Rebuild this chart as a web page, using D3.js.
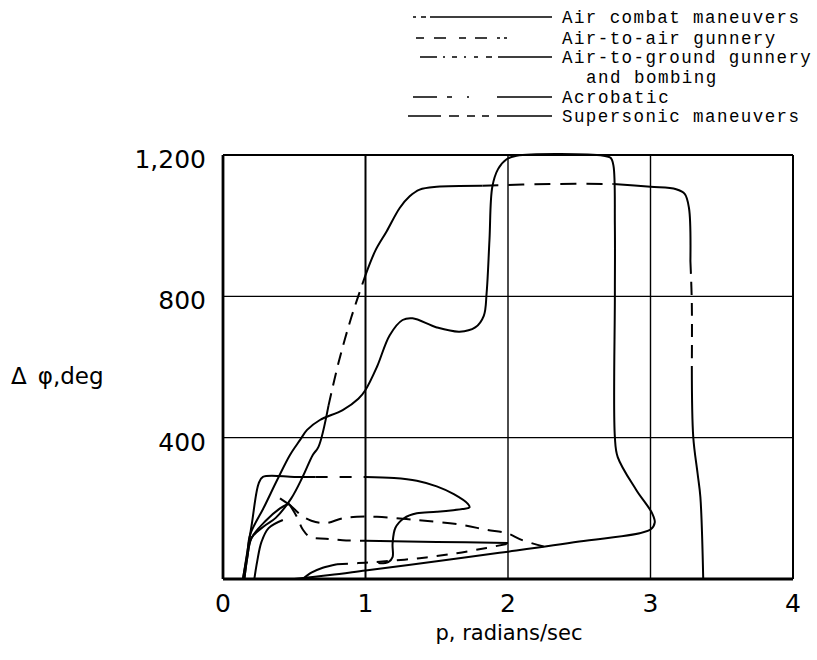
<!DOCTYPE html>
<html>
<head>
<meta charset="utf-8">
<script src="https://cdn.jsdelivr.net/npm/d3@7"></script>
<style>
  html, body { margin: 0; padding: 0; background: #fff; }
  svg { display: block; }
</style>
</head>
<body>
<svg id="chart" width="817" height="660"></svg>
<script>
// ---------------- data ----------------
const xTicks = [0, 1, 2, 3, 4];
const xTickLabels = ["0", "1", "2", "3", "4"];
const yTicks = [400, 800, 1200];
const yTickLabels = ["400", "800", "1,200"];
const xTitle = "p, radians/sec";
const yTitleSymbol = "\u0394";
const yTitleRest = "\u03C6,deg";

const legendNames = [
  "Air combat maneuvers",
  "Air-to-air gunnery",
  "Air-to-ground gunnery",
  "Acrobatic",
  "Supersonic maneuvers"
];
const legendSecondLine = ["", "", "and bombing", "", ""];

// [p (rad/sec), delta phi (deg)]
const airCombat = [[0.5,0],[0.75,11],[1.0,24],[1.5,50],[1.94,74],[2.5,106],[3.0,140],[3.03,160],[3.01,187],
  [2.9,252],[2.77,345],[2.75,402],[2.75,804],[2.75,1000],[2.74,1170],[2.72,1192],[2.67,1198],[2.06,1198],
  [1.99,1188],[1.93,1160],[1.89,1110],[1.87,960],[1.85,810],[1.83,745],[1.77,712],[1.66,700],[1.5,712],
  [1.33,738],[1.26,733],[1.17,690],[1.08,600],[1.0,535],[0.95,510],[0.84,478],[0.68,450],[0.59,422],
  [0.54,393],[0.47,351],[0.38,280],[0.29,205],[0.19,125],[0.17,70],[0.14,0]];

const supersonic = [[0.15,0],[0.17,60],[0.2,116],[0.29,150],[0.37,173],[0.48,229],[0.56,290],[0.63,351],
  [0.67,374],[0.74,490],[0.81,611],[0.9,740],[1.0,860],[1.07,930],[1.15,985],[1.24,1050],[1.31,1083],
  [1.38,1102],[1.5,1110],[1.82,1113],[2.3,1118],[2.74,1118],[3.0,1110],[3.18,1103],[3.24,1090],[3.27,1050],
  [3.28,900],[3.29,780],[3.29,600],[3.3,402],[3.33,300],[3.35,232],[3.37,0]];

const airToGround = [[0.14,0],[0.2,150],[0.25,270],[0.28,289],[0.5,289],[0.65,289],[1.0,289],[1.2,286],
  [1.36,278],[1.5,262],[1.62,240],[1.72,212],[1.73,203],[1.68,198],[1.5,190],[1.36,186],[1.27,172],
  [1.21,145],[1.19,100],[1.19,62],[1.16,48],[1.09,45]];

const acrobaticShort = [[0.22,0],[0.24,50],[0.27,105],[0.32,144],[0.42,167]];
const acrobaticLow = [[0.56,0],[0.62,18],[0.7,32],[0.8,42],[0.95,45],[1.1,49],[1.38,59],[1.64,73],[1.85,88],[2.0,100]];

const gunneryUpper = [[0.15,0],[0.17,60],[0.2,116],[0.3,165],[0.4,200],[0.46,213],[0.5,198],[0.55,180],
  [0.62,165],[0.72,158],[0.84,172],[0.94,176],[1.08,176],[1.36,167],[1.68,153],[1.85,139],[1.99,130],
  [2.1,110],[2.25,92]];
const gunneryLower = [[0.4,228],[0.47,209],[0.52,175],[0.56,140],[0.61,119],[0.72,114],[0.84,110],
  [1.0,108],[1.5,105],[2.0,102]];

// ---------------- styling / drawing ----------------
const DASH = "13,8";
const pieces = [
  { data: airCombat, from: 0, to: airCombat.length - 1, dash: null },

  { data: supersonic, from: 0, to: 9, dash: null },
  { data: supersonic, from: 9, to: 12, dash: DASH },
  { data: supersonic, from: 12, to: 19, dash: null },
  { data: supersonic, from: 19, to: 21, dash: "16,10" },
  { data: supersonic, from: 21, to: 26, dash: null },
  { data: supersonic, from: 26, to: 28, dash: DASH },
  { data: supersonic, from: 28, to: supersonic.length - 1, dash: null },

  { data: airToGround, from: 0, to: 5, dash: null },
  { data: airToGround, from: 5, to: 6, dash: "12,12" },
  { data: airToGround, from: 6, to: airToGround.length - 1, dash: null },

  { data: acrobaticShort, from: 0, to: acrobaticShort.length - 1, dash: null },
  { data: acrobaticLow, from: 0, to: 3, dash: null },
  { data: acrobaticLow, from: 3, to: acrobaticLow.length - 1, dash: "11,9" },

  { data: gunneryUpper, from: 0, to: 5, dash: null },
  { data: gunneryUpper, from: 5, to: gunneryUpper.length - 1, dash: "14,9" },
  { data: gunneryLower, from: 0, to: 1, dash: null },
  { data: gunneryLower, from: 1, to: 7, dash: "13,9" },
  { data: gunneryLower, from: 7, to: gunneryLower.length - 1, dash: null }
];

const svg = d3.select("#chart");
const W = 817, H = 660;
const margin = { left: 223, right: W - 793, top: 155, bottom: H - 579 };

const x = d3.scaleLinear().domain([0, 4]).range([margin.left, W - margin.right]);
const y = d3.scaleLinear().domain([0, 1200]).range([H - margin.bottom, margin.top]);

// gridlines
const g = svg.append("g");
g.selectAll("line.vgrid").data([1, 2, 3]).enter().append("line")
  .attr("x1", d => x(d)).attr("x2", d => x(d))
  .attr("y1", y(0)).attr("y2", y(1200))
  .attr("stroke", "#000").attr("stroke-width", d => d === 1 ? 2 : 1.4);
g.selectAll("line.hgrid").data([400, 800]).enter().append("line")
  .attr("x1", x(0)).attr("x2", x(4))
  .attr("y1", d => y(d)).attr("y2", d => y(d))
  .attr("stroke", "#000").attr("stroke-width", 1.4);

// frame
g.append("line").attr("x1", x(0)).attr("x2", x(0)).attr("y1", y(0)).attr("y2", y(1200))
  .attr("stroke", "#000").attr("stroke-width", 2.8);
g.append("line").attr("x1", x(4)).attr("x2", x(4)).attr("y1", y(0)).attr("y2", y(1200))
  .attr("stroke", "#000").attr("stroke-width", 2);
g.append("line").attr("x1", x(0)).attr("x2", x(4)).attr("y1", y(0)).attr("y2", y(0))
  .attr("stroke", "#000").attr("stroke-width", 3.2);
g.append("line").attr("x1", x(0)).attr("x2", x(4)).attr("y1", y(1200)).attr("y2", y(1200))
  .attr("stroke", "#000").attr("stroke-width", 1.8);

// curves
const line = d3.line()
  .x(d => x(d[0])).y(d => y(d[1]))
  .curve(d3.curveCatmullRom.alpha(0.5));

svg.append("g").selectAll("path").data(pieces).enter().append("path")
  .attr("d", p => line(p.data.slice(p.from, p.to + 1)))
  .attr("fill", "none")
  .attr("stroke", "#000")
  .attr("stroke-width", 2)
  .attr("stroke-linejoin", "round")
  .attr("stroke-dasharray", p => p.dash);

// axes labels
const tickFont = "'DejaVu Sans', sans-serif";
svg.append("g").selectAll("text").data(xTicks).enter().append("text")
  .attr("x", d => x(d)).attr("y", y(0) + 33)
  .attr("text-anchor", "middle")
  .attr("font-family", tickFont).attr("font-size", 25).attr("fill", "#000")
  .text((d, i) => xTickLabels[i]);

svg.append("g").selectAll("text").data(yTicks).enter().append("text")
  .attr("x", x(0) - 17).attr("y", d => y(d) + 13)
  .attr("text-anchor", "end")
  .attr("font-family", tickFont).attr("font-size", 25).attr("fill", "#000")
  .text((d, i) => yTickLabels[i]);

svg.append("text")
  .attr("x", (x(0) + x(4)) / 2 + 1).attr("y", 640)
  .attr("text-anchor", "middle")
  .attr("font-family", tickFont).attr("font-size", 21).attr("fill", "#000")
  .text(xTitle);

const yt = svg.append("text")
  .attr("x", 11).attr("y", 384)
  .attr("font-family", tickFont).attr("font-size", 23).attr("fill", "#000");
yt.append("tspan").text(yTitleSymbol);
yt.append("tspan").attr("dx", 11).text(yTitleRest);

// legend
const legendFont = "'Liberation Mono', 'Courier New', monospace";
const charW = 11.85;
const legRows = [
  { name: 0, y: 17, x1: 413, dash: "3,5,5,4,190" },
  { name: 1, y: 38, x1: 416, dash: "8,10,12,13,7,9,12,10,3,4,3,60" },
  { name: 2, y: 57, x1: 420, dash: "17,6,2,7,5,7,2,8,4,8,6,6,100" },
  { name: 3, y: 97, x1: 413, dash: "24,10,5,15,2,28,100" },
  { name: 4, y: 116, x1: 408, dash: "33,8,10,8,8,7,7,8,100" }
];
const lg = svg.append("g");
lg.selectAll("line").data(legRows).enter().append("line")
  .attr("x1", d => d.x1).attr("x2", 552)
  .attr("y1", d => d.y).attr("y2", d => d.y)
  .attr("stroke", "#000").attr("stroke-width", 1.6)
  .attr("stroke-dasharray", d => d.dash);
lg.selectAll("text.name").data(legRows).enter().append("text")
  .attr("class", "name")
  .attr("x", 562).attr("y", d => d.y + 6)
  .attr("font-family", legendFont).attr("font-size", 17.5)
  .attr("textLength", d => legendNames[d.name].length * charW)
  .attr("lengthAdjust", "spacing")
  .text(d => legendNames[d.name]);
lg.selectAll("text.second").data(legRows.filter(d => legendSecondLine[d.name])).enter().append("text")
  .attr("class", "second")
  .attr("x", 586).attr("y", d => d.y + 26)
  .attr("font-family", legendFont).attr("font-size", 17.5)
  .attr("textLength", d => legendSecondLine[d.name].length * charW)
  .attr("lengthAdjust", "spacing")
  .text(d => legendSecondLine[d.name]);
</script>
</body>
</html>
